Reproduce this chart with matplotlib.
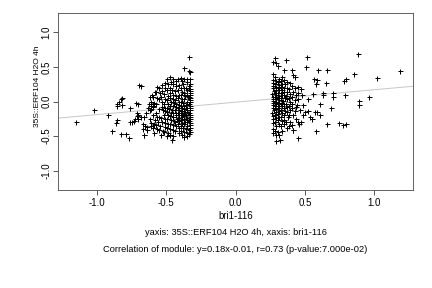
import matplotlib
matplotlib.use("Agg")
import matplotlib.pyplot as plt

plt.rcParams['font.family'] = ['Liberation Sans', 'DejaVu Sans']

# ---- data ----
left_outliers = [(-1.147,-0.30),(-1.019,-0.13),(-0.919,-0.19),(-0.888,-0.42),(-0.859,-0.31),(-0.852,-0.27),
    (-0.856,-0.07),(-0.852,-0.03),(-0.840,0.00),(-0.827,0.03),(-0.818,0.05),(-0.816,-0.05),(-0.825,-0.47),
    (-0.790,-0.47),(-0.768,-0.53),(-0.758,-0.09),(-0.717,-0.015),(-0.703,-0.03),(-0.693,0.245),(-0.683,0.23),
    (-0.760,-0.30),(-0.746,-0.30),(-0.732,-0.28),(-0.722,-0.26),(-0.712,-0.21),(-0.703,-0.20),(-0.662,-0.48),
    (-0.667,-0.40),(-0.667,-0.33),(-0.650,-0.36),(-0.636,-0.37),(-0.700,-0.26),(-0.680,-0.23),(-0.660,-0.22),
    (-0.645,-0.17),(-0.712,-0.165),(-0.630,-0.10),(-0.610,-0.115),(-0.607,-0.04),(-0.595,-0.07),(-0.624,-0.03),
    (-0.614,0.066),(-0.600,0.09),(-0.578,0.14),(-0.568,0.21),(-0.636,-0.41),(-0.660,-0.49),(-0.583,-0.27),(-0.590,-0.34)]

left_dense_a = [(-0.336,0.65),(-0.333,0.44),(-0.327,0.43),(-0.330,0.33),(-0.326,0.25),(-0.334,0.22),(-0.329,0.18),
    (-0.325,0.15),(-0.331,0.12),(-0.327,0.10),(-0.333,0.07),(-0.326,0.05),(-0.330,0.02),(-0.328,-0.01),(-0.334,-0.04),
    (-0.326,-0.07),(-0.331,-0.10),(-0.327,-0.13),(-0.333,-0.16),(-0.325,-0.19),(-0.330,-0.22),(-0.328,-0.25),
    (-0.334,-0.28),(-0.326,-0.31),(-0.331,-0.34),(-0.327,-0.38),(-0.333,-0.41),(-0.329,-0.44),(-0.335,-0.47),
    (-0.352,0.32),(-0.347,0.28),(-0.355,0.20),(-0.349,0.16),(-0.353,0.10),(-0.346,0.06),(-0.351,0.00),(-0.356,-0.05),
    (-0.348,-0.09),(-0.352,-0.12),(-0.345,-0.17),(-0.354,-0.20),(-0.349,-0.24),(-0.353,-0.27),(-0.347,-0.30),
    (-0.351,-0.35),(-0.356,-0.40),(-0.348,-0.45),(-0.352,-0.50),
    (-0.372,0.48),(-0.368,0.33),(-0.375,0.26),(-0.369,0.19),(-0.373,0.13),(-0.366,0.08),(-0.371,0.03),(-0.376,-0.02),
    (-0.368,-0.07),(-0.372,-0.11),(-0.365,-0.15),(-0.374,-0.18),(-0.369,-0.21),(-0.373,-0.25),(-0.367,-0.29),
    (-0.371,-0.33),(-0.376,-0.38),(-0.368,-0.44),(-0.372,-0.52),
    (-0.392,0.34),(-0.388,0.29),(-0.395,0.20),(-0.389,0.14),(-0.393,0.09),(-0.386,0.04),(-0.391,-0.01),(-0.396,-0.06),
    (-0.388,-0.10),(-0.392,-0.14),(-0.385,-0.17),(-0.394,-0.20),(-0.389,-0.23),(-0.393,-0.27),(-0.387,-0.31),
    (-0.391,-0.36),(-0.396,-0.42),(-0.388,-0.48)]

left_dense_b = [(-0.412,0.32),(-0.408,0.24),(-0.415,0.17),(-0.409,0.10),(-0.413,0.05),(-0.406,0.00),(-0.411,-0.05),
    (-0.416,-0.09),(-0.408,-0.13),(-0.412,-0.17),(-0.405,-0.20),(-0.414,-0.24),(-0.409,-0.28),(-0.413,-0.33),
    (-0.407,-0.39),(-0.411,-0.45),
    (-0.432,0.30),(-0.428,0.22),(-0.435,0.15),(-0.429,0.08),(-0.433,0.02),(-0.426,-0.04),(-0.431,-0.08),(-0.436,-0.12),
    (-0.428,-0.16),(-0.432,-0.20),(-0.425,-0.25),(-0.434,-0.30),(-0.429,-0.36),(-0.433,-0.42),
    (-0.452,0.33),(-0.448,0.26),(-0.455,0.17),(-0.449,0.10),(-0.453,0.04),(-0.446,-0.02),(-0.451,-0.07),(-0.456,-0.12),
    (-0.448,-0.17),(-0.452,-0.22),(-0.445,-0.28),(-0.454,-0.34),(-0.449,-0.41),(-0.453,-0.50),(-0.457,-0.56),
    (-0.472,0.36),(-0.468,0.28),(-0.475,0.20),(-0.469,0.12),(-0.473,0.05),(-0.466,-0.01),(-0.471,-0.06),(-0.476,-0.11),
    (-0.468,-0.16),(-0.472,-0.21),(-0.465,-0.27),(-0.474,-0.33),(-0.469,-0.40),(-0.473,-0.48),
    (-0.492,0.32),(-0.488,0.25),(-0.495,0.16),(-0.489,0.08),(-0.493,0.02),(-0.486,-0.04),(-0.491,-0.10),(-0.496,-0.15),
    (-0.488,-0.20),(-0.492,-0.26),(-0.485,-0.32),(-0.494,-0.38),(-0.489,-0.45),(-0.493,-0.50),
    (-0.512,0.27),(-0.508,0.20),(-0.515,0.11),(-0.509,0.04),(-0.513,-0.03),(-0.506,-0.09),(-0.511,-0.14),(-0.516,-0.19),
    (-0.508,-0.25),(-0.512,-0.31),(-0.505,-0.37),(-0.514,-0.44),
    (-0.532,0.24),(-0.528,0.15),(-0.535,0.06),(-0.529,-0.01),(-0.533,-0.08),(-0.526,-0.13),(-0.536,-0.24),
    (-0.528,-0.30),(-0.525,-0.42),(-0.534,-0.48),
    (-0.552,0.20),(-0.548,0.12),(-0.555,0.04),(-0.553,-0.11),(-0.551,-0.23),(-0.556,-0.29),
    (-0.548,-0.35),(-0.552,-0.41),
    (-0.572,0.14),(-0.568,0.05),(-0.575,-0.03),(-0.573,-0.16),(-0.566,-0.22),(-0.576,-0.34),
    (-0.568,-0.40),
    (-0.592,0.07),(-0.588,-0.02),(-0.595,-0.08),(-0.593,-0.20),(-0.591,-0.32),(-0.596,-0.38),
    (-0.588,-0.45),
    (-0.612,0.00),(-0.608,-0.06),(-0.615,-0.12),(-0.613,-0.25),(-0.606,-0.31),(-0.611,-0.36)]

right_dense_a = [(0.272,0.57),(0.268,0.40),(0.274,0.31),(0.267,0.27),(0.273,0.23),(0.269,0.19),(0.275,0.15),(0.266,0.11),
    (0.272,0.07),(0.268,0.04),(0.274,0.01),(0.267,-0.02),(0.273,-0.05),(0.269,-0.09),(0.275,-0.13),(0.266,-0.17),
    (0.272,-0.21),(0.268,-0.26),(0.274,-0.31),(0.267,-0.40),(0.273,-0.46),
    (0.288,0.635),(0.292,0.55),(0.286,0.36),(0.291,0.29),(0.287,0.25),(0.293,0.21),(0.289,0.17),(0.285,0.13),(0.292,0.09),
    (0.288,0.06),(0.294,0.03),(0.286,0.00),(0.291,-0.03),(0.287,-0.07),(0.293,-0.11),(0.289,-0.15),(0.285,-0.19),
    (0.292,-0.24),(0.288,-0.29),(0.294,-0.35),(0.286,-0.42),(0.291,-0.48),(0.290,-0.57),
    (0.305,0.51),(0.312,0.33),(0.308,0.28),(0.314,0.24),(0.306,0.20),(0.311,0.16),(0.307,0.12),(0.313,0.08),(0.309,0.05),
    (0.315,0.02),(0.306,-0.02),(0.312,-0.06),(0.308,-0.10),(0.314,-0.14),(0.307,-0.18),(0.311,-0.22),(0.309,-0.27),
    (0.313,-0.33),(0.306,-0.44),(0.312,-0.49),
    (0.332,0.36),(0.328,0.30),(0.334,0.25),(0.327,0.21),(0.333,0.17),(0.329,0.13),(0.335,0.09),(0.326,0.05),(0.332,0.01),
    (0.328,-0.03),(0.334,-0.07),(0.327,-0.12),(0.333,-0.17),(0.329,-0.22),(0.335,-0.28),(0.326,-0.35),(0.332,-0.43),
    (0.320,-0.56)]

right_dense_b = [(0.352,0.45),(0.348,0.31),(0.354,0.25),(0.347,0.19),(0.353,0.14),(0.349,0.10),(0.355,0.05),(0.346,0.01),
    (0.352,-0.04),(0.348,-0.09),(0.354,-0.14),(0.347,-0.20),(0.353,-0.27),(0.349,-0.32),
    (0.367,0.596),(0.372,0.28),(0.368,0.20),(0.374,0.14),(0.366,0.08),(0.371,0.03),(0.367,-0.03),(0.373,-0.08),
    (0.369,-0.15),(0.375,-0.22),(0.366,-0.30),(0.372,-0.38),
    (0.392,0.27),(0.388,0.18),(0.394,0.11),(0.387,0.05),(0.393,-0.01),(0.389,-0.07),(0.395,-0.13),(0.386,-0.20),
    (0.392,-0.30),(0.388,-0.36),
    (0.405,0.45),(0.412,0.38),(0.408,0.22),(0.414,0.14),(0.406,0.06),(0.411,-0.04),(0.407,-0.10),(0.413,-0.20),
    (0.409,-0.34),(0.415,-0.41),
    (0.432,0.35),(0.428,0.20),(0.434,0.10),(0.427,0.02),(0.433,-0.08),(0.429,-0.14),(0.435,-0.26),
    (0.452,0.21),(0.448,0.12),(0.454,0.04),(0.447,-0.05),(0.463,-0.125),(0.453,-0.29),(0.475,-0.29),(0.450,-0.53)]

right_outliers = [(0.515,0.64),(0.508,0.50),(0.595,0.46),(0.660,0.45),(0.882,0.68),(1.187,0.437),(1.019,0.336),
    (0.853,0.40),(0.800,0.33),(0.780,0.29),(0.568,0.33),(0.590,0.31),(0.580,0.26),(0.650,0.27),(0.470,0.18),
    (0.558,0.115),(0.630,0.125),(0.700,0.125),(0.630,0.09),(0.700,0.066),(0.790,0.09),(0.960,0.06),(0.887,0.004),
    (0.887,-0.05),(0.688,-0.09),(0.607,-0.03),(0.573,-0.15),(0.587,-0.145),(0.610,-0.20),(0.554,-0.25),(0.660,-0.33),
    (0.580,-0.42),(0.745,-0.31),(0.774,-0.34),(0.800,-0.32),(0.500,-0.15),(0.520,-0.135),(0.486,-0.20),(0.535,-0.22),
    (0.415,-0.41),(0.490,-0.05),(0.480,0.10),(0.520,0.03),(0.458,-0.32)]

slope = 0.18
intercept = -0.01

x_ticks = [-1.0, -0.5, 0.0, 0.5, 1.0]
y_ticks = [-1.0, -0.5, 0.0, 0.5, 1.0]
x_label = "bri1-116"
y_label = "35S::ERF104 H2O 4h"
subtitle1 = "yaxis: 35S::ERF104 H2O 4h, xaxis: bri1-116"
subtitle2 = "Correlation of module: y=0.18x-0.01, r=0.73 (p-value:7.000e-02)"

# ---- plot ----
fig = plt.figure(figsize=(6, 4), dpi=72)
ax = fig.add_axes([58/432, 1-190/288, (413-58)/432, (190-13)/288])

pts = left_outliers + left_dense_a + left_dense_b + right_dense_a + right_dense_b + right_outliers
xs = [p[0] for p in pts]
ys = [p[1] for p in pts]
ax.axline((0, intercept), slope=slope, color='#c8c8c8', lw=1.0, zorder=1)
ax.plot(xs, ys, ls='none', marker='+', ms=5, mew=1.0, color='black', zorder=2)

ax.set_xlim(-1.28, 1.28)
ax.set_ylim(-1.28, 1.28)
ax.set_xticks(x_ticks)
ax.set_yticks(y_ticks)
ax.set_xticklabels([f"{t:.1f}" for t in x_ticks])
ax.set_yticklabels([f"{t:.1f}" for t in y_ticks], rotation=90, va='center')
ax.tick_params(axis='both', direction='out', length=5, width=0.8, colors='#333333', labelsize=9.8, labelcolor='black')
ax.tick_params(axis='x', pad=3)
ax.tick_params(axis='y', pad=1.5)
for s in ax.spines.values():
    s.set_color('#555555')
    s.set_linewidth(0.9)

fig.text(235.5/432, 1-216/288, x_label, ha='center', va='center', fontsize=9.6)
fig.text(37.5/432, 1-86.5/288, y_label, ha='center', va='center', fontsize=8.4, rotation=90)
fig.text(235.5/432, 1-232.5/288, subtitle1, ha='center', va='center', fontsize=9.2)
fig.text(235.5/432, 1-249/288, subtitle2, ha='center', va='center', fontsize=9.2)

fig.savefig("out.png", dpi=72)
